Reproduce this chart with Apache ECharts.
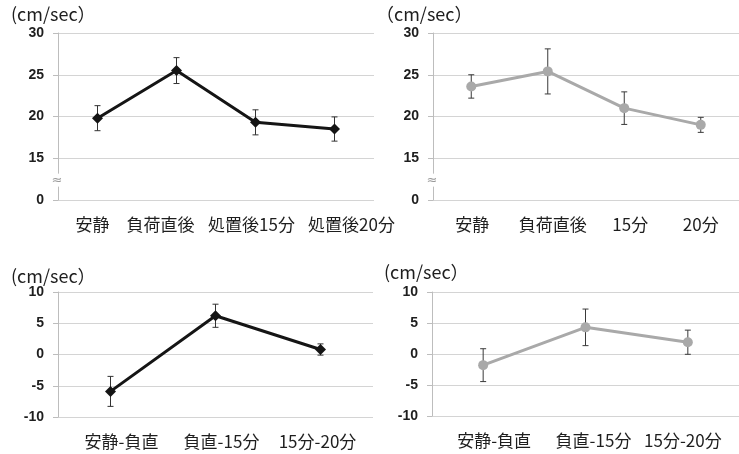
<!DOCTYPE html>
<html>
<head>
<meta charset="utf-8">
<script src="https://cdn.jsdelivr.net/npm/echarts@6/dist/echarts.min.js"></script>
<style>
  html, body { margin: 0; padding: 0; background: #fff; }
  #chart { width: 739px; height: 454px; }
</style>
</head>
<body>
<div id="chart"></div>
<script>
// Blood flow velocity (cm/sec): mean ± SD per phase
const catsTopLeft  = ['安静', '負荷直後', '処置後15分', '処置後20分'];
const meanTopLeft  = [19.8, 25.5, 19.3, 18.5];
const sdTopLeft    = [1.5, 1.55, 1.5, 1.45];

const catsTopRight = ['安静', '負荷直後', '15分', '20分'];
const meanTopRight = [23.6, 25.4, 21.0, 19.0];
const sdTopRight   = [1.4, 2.7, 1.95, 0.9];

// Change between phases
const catsDiff      = ['安静-負直', '負直-15分', '15分-20分'];
const diffLeft      = [-5.9, 6.2, 0.8];
const sdDiffLeft    = [2.4, 1.85, 0.9];
const diffRight     = [-1.8, 4.3, 1.9];
const sdDiffRight   = [2.65, 2.95, 1.95];

// Upper charts use a broken axis: the lowest tick stands for 0
const topAxisMin = 10, topAxisMax = 30, topAxisStep = 5;
const topTickLabels = { 10: '0', 15: '15', 20: '20', 25: '25', 30: '30' };
const diffTicks = [-10, 10, 5];   // min, max, step

const unitLabel = '(cm/sec）';

// horizontal nudges (px) for category labels
const nudgeTL = [-5, -16, -4, 17];
const nudgeTR = [1, 5, 6, 0];
const nudgeBL = [11, 6, -3];
const nudgeBR = [11, 8, -5];

const CJK = '"Noto Sans CJK JP", "Noto Sans", sans-serif';
const GRID_COLOR = '#d4d4d4';
const AXIS_COLOR = '#bdbdbd';

const grids = [
  { left: 58, top: 33, width: 316, height: 167 },
  { left: 433, top: 33, width: 316, height: 167 },
  { left: 58, top: 292, width: 315, height: 125 },
  { left: 432, top: 292, width: 316, height: 124 }
];

function richLabels(nudges) {
  const rich = {};
  nudges.forEach((d, i) => {
    rich['n' + i] = {
      fontFamily: CJK, fontSize: 17, color: '#1e1e1e',
      padding: d >= 0 ? [0, 0, 0, 2 * d] : [0, -2 * d, 0, 0]
    };
  });
  return rich;
}

function xAxisFor(gridIndex, cats, nudges) {
  return {
    type: 'category', gridIndex, data: cats, boundaryGap: true,
    axisLine: { show: false }, axisTick: { show: false },
    axisLabel: {
      interval: 0, margin: 16,
      formatter: (v, i) => '{n' + i + '|' + v + '}',
      rich: richLabels(nudges)
    }
  };
}

function yAxisFor(gridIndex, min, max, step, fmt) {
  return {
    type: 'value', gridIndex, min, max, interval: step,
    axisLine: { show: true, lineStyle: { color: AXIS_COLOR, width: 1 } },
    axisTick: { show: true, length: 5, lineStyle: { color: AXIS_COLOR } },
    splitLine: { show: true, lineStyle: { color: GRID_COLOR, width: 1 } },
    axisLabel: {
      margin: 14, fontFamily: '"Liberation Sans", Arial, sans-serif',
      fontWeight: 'bold', fontSize: 14, color: '#1e1e1e',
      formatter: fmt
    }
  };
}

function errorSeries(axisIdx, means, sds, color) {
  return {
    type: 'custom', xAxisIndex: axisIdx, yAxisIndex: axisIdx, z: 1,
    silent: true,
    data: means.map((m, i) => [i, m - sds[i], m + sds[i]]),
    renderItem(params, api) {
      const top = api.coord([api.value(0), api.value(2)]);
      const bot = api.coord([api.value(0), api.value(1)]);
      const cap = 3;
      const style = { stroke: color, lineWidth: 1 };
      return {
        type: 'group',
        children: [
          { type: 'line', shape: { x1: top[0], y1: top[1], x2: bot[0], y2: bot[1] }, style },
          { type: 'line', shape: { x1: top[0] - cap, y1: top[1], x2: top[0] + cap, y2: top[1] }, style },
          { type: 'line', shape: { x1: bot[0] - cap, y1: bot[1], x2: bot[0] + cap, y2: bot[1] }, style }
        ]
      };
    }
  };
}

function lineSeries(axisIdx, means, color, symbol, size) {
  return {
    type: 'line', xAxisIndex: axisIdx, yAxisIndex: axisIdx, z: 3,
    data: means, symbol, symbolSize: size, showSymbol: true,
    lineStyle: { color, width: 3 },
    itemStyle: { color, borderWidth: 0 },
    animation: false
  };
}

const DARK = '#151515';
const LIGHT = '#a9a9a9';

const topFmt = v => topTickLabels[v] !== undefined ? topTickLabels[v] : '';

const chart = echarts.init(document.getElementById('chart'), null, { renderer: 'canvas' });

const titleStyle = { fontFamily: CJK, fontSize: 18, fontWeight: 'normal', color: '#1e1e1e' };

chart.setOption({
  animation: false,
  backgroundColor: '#fff',
  title: [
    { text: unitLabel, left: 11, top: 5, textStyle: titleStyle, padding: 0 },
    { text: '（cm/sec）', left: 376, top: 5, textStyle: titleStyle, padding: 0 },
    { text: unitLabel, left: 11, top: 267, textStyle: titleStyle, padding: 0 },
    { text: unitLabel, left: 384, top: 263, textStyle: titleStyle, padding: 0 }
  ],
  grid: grids,
  xAxis: [
    xAxisFor(0, catsTopLeft, nudgeTL),
    xAxisFor(1, catsTopRight, nudgeTR),
    xAxisFor(2, catsDiff, nudgeBL),
    xAxisFor(3, catsDiff, nudgeBR)
  ],
  yAxis: [
    yAxisFor(0, topAxisMin, topAxisMax, topAxisStep, topFmt),
    yAxisFor(1, topAxisMin, topAxisMax, topAxisStep, topFmt),
    yAxisFor(2, diffTicks[0], diffTicks[1], diffTicks[2]),
    yAxisFor(3, diffTicks[0], diffTicks[1], diffTicks[2])
  ],
  series: [
    errorSeries(0, meanTopLeft, sdTopLeft, '#333'),
    lineSeries(0, meanTopLeft, DARK, 'diamond', 11),
    errorSeries(1, meanTopRight, sdTopRight, '#3a3a3a'),
    lineSeries(1, meanTopRight, LIGHT, 'circle', 10),
    errorSeries(2, diffLeft, sdDiffLeft, '#333'),
    lineSeries(2, diffLeft, DARK, 'diamond', 11),
    errorSeries(3, diffRight, sdDiffRight, '#3a3a3a'),
    lineSeries(3, diffRight, LIGHT, 'circle', 10)
  ]
});

// Break marks on the upper value axes, between the 0 and 15 ticks
const breakValue = (topAxisMin + 15) / 2;
const marks = [0, 1].map(idx => {
  const y = chart.convertToPixel({ yAxisIndex: idx }, breakValue);
  return {
    type: 'text', x: grids[idx].left - 1, y: y + 1, z: 10,
    style: {
      text: '≈', fill: '#9a9a9a', fontSize: 13, fontFamily: '"DejaVu Sans", sans-serif',
      align: 'center', verticalAlign: 'middle', backgroundColor: '#fff'
    }
  };
});
chart.setOption({ graphic: marks });
</script>
</body>
</html>
